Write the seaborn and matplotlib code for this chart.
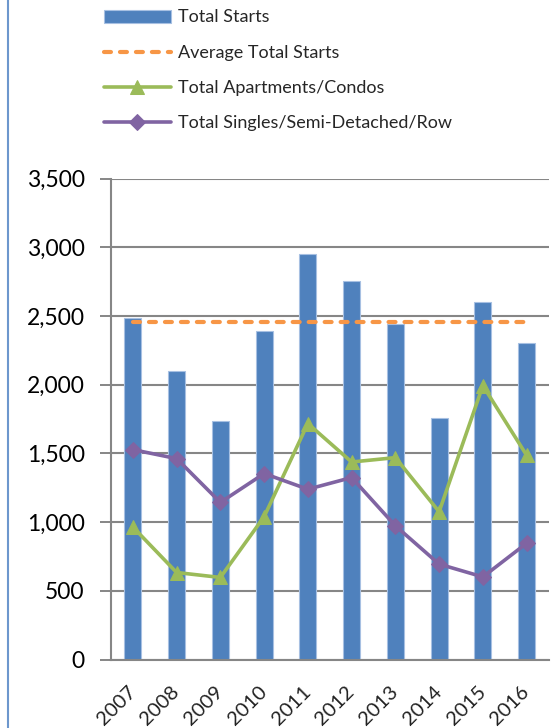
import numpy as np
import pandas as pd
import seaborn as sns
import matplotlib.pyplot as plt
from matplotlib.lines import Line2D

# Data
years = ['2007', '2008', '2009', '2010', '2011', '2012', '2013', '2014', '2015', '2016']
total_starts = [2488, 2096, 1734, 2391, 2954, 2754, 2440, 1759, 2599, 2304]
avg_total_starts = 2457
apartments = [964, 633, 597, 1039, 1717, 1437, 1469, 1075, 1993, 1486]
singles = [1527, 1462, 1143, 1353, 1239, 1324, 973, 694, 601, 846]
y_ticks = [0, 500, 1000, 1500, 2000, 2500, 3000, 3500]
legend_order = ['Total Starts', 'Average Total Starts',
                'Total Apartments/Condos', 'Total Singles/Semi-Detached/Row']

df = pd.DataFrame({'year': years, 'total': total_starts,
                   'apts': apartments, 'singles': singles})
df['pos'] = np.arange(len(df))
df['avg'] = avg_total_starts

# Style
sns.set_style('white')
plt.rcParams['font.family'] = ['Lato', 'DejaVu Sans']
plt.rcParams['lines.scale_dashes'] = False

grey = '#868686'
blue = '#4F81BD'
orange = '#F79646'
green = '#9BBB59'
purple = '#8064A2'

fig = plt.figure(figsize=(5.57, 7.28), dpi=100)
ax = fig.add_axes([111 / 557, 1 - 659.5 / 728, (548.5 - 111) / 557, (659.5 - 178.5) / 728])

# Bars
sns.barplot(data=df, x='year', y='total', color=blue, saturation=1, width=0.39,
            edgecolor='#A7C0E2', linewidth=0.8, ax=ax, label=legend_order[0], zorder=2)

# Lines
sns.lineplot(data=df, x='pos', y='avg', color=orange, lw=3, ax=ax,
             label=legend_order[1], zorder=3)
avg_line = ax.lines[-1]
avg_line.set_dashes((5, 6.5))
avg_line.set_dash_capstyle('round')

sns.lineplot(data=df, x='pos', y='apts', color=green, lw=2.6, marker='^', ms=10,
             markeredgecolor=green, ax=ax, label=legend_order[2], zorder=4)
sns.lineplot(data=df, x='pos', y='singles', color=purple, lw=2.6, marker='D', ms=8,
             markeredgecolor=purple, ax=ax, label=legend_order[3], zorder=5)

# Axes
ax.set_xlim(-0.5, len(years) - 0.5)
ax.set_ylim(0, 3500)
ax.set_yticks(y_ticks)
ax.set_yticklabels([f'{v:,}' for v in y_ticks], fontsize=16.5, color='black')
ax.set_xticks(df['pos'])
ax.set_xticklabels(years, rotation=45, ha='right', rotation_mode='anchor',
                   va='center', fontsize=14.5, color='#222222')
ax.set_xticks(np.arange(len(years) + 1) - 0.5, minor=True)
ax.tick_params(axis='x', which='major', length=0, pad=21)
ax.tick_params(axis='x', which='minor', length=4.5, width=1.4, color=grey)
ax.tick_params(axis='y', length=8, width=1.4, color=grey, pad=11, left=True)
ax.set_xlabel('')
ax.set_ylabel('')
ax.yaxis.grid(True, color=grey, lw=1.5)
ax.xaxis.grid(False)
ax.set_axisbelow(True)
for s in ['top', 'right']:
    ax.spines[s].set_visible(False)
for s in ['left', 'bottom']:
    ax.spines[s].set_color(grey)
    ax.spines[s].set_linewidth(1.5)

# Legend
handles, labels = ax.get_legend_handles_labels()
if ax.get_legend() is not None:
    ax.get_legend().remove()
hmap = dict(zip(labels, handles))
fig.legend([hmap[l] for l in legend_order], legend_order, loc='upper left',
           bbox_to_anchor=(104 / 557, 1 - 9.5 / 728),
           frameon=False, fontsize=13, handlelength=3.7, handletextpad=0.4,
           labelspacing=1.07, borderpad=0, borderaxespad=0)

# Blue frame line on the left
fig.add_artist(Line2D([8 / 557, 8 / 557], [0, 1], transform=fig.transFigure,
                      color='#6D97CD', lw=1.5))

fig.savefig('out.png', dpi=100)
